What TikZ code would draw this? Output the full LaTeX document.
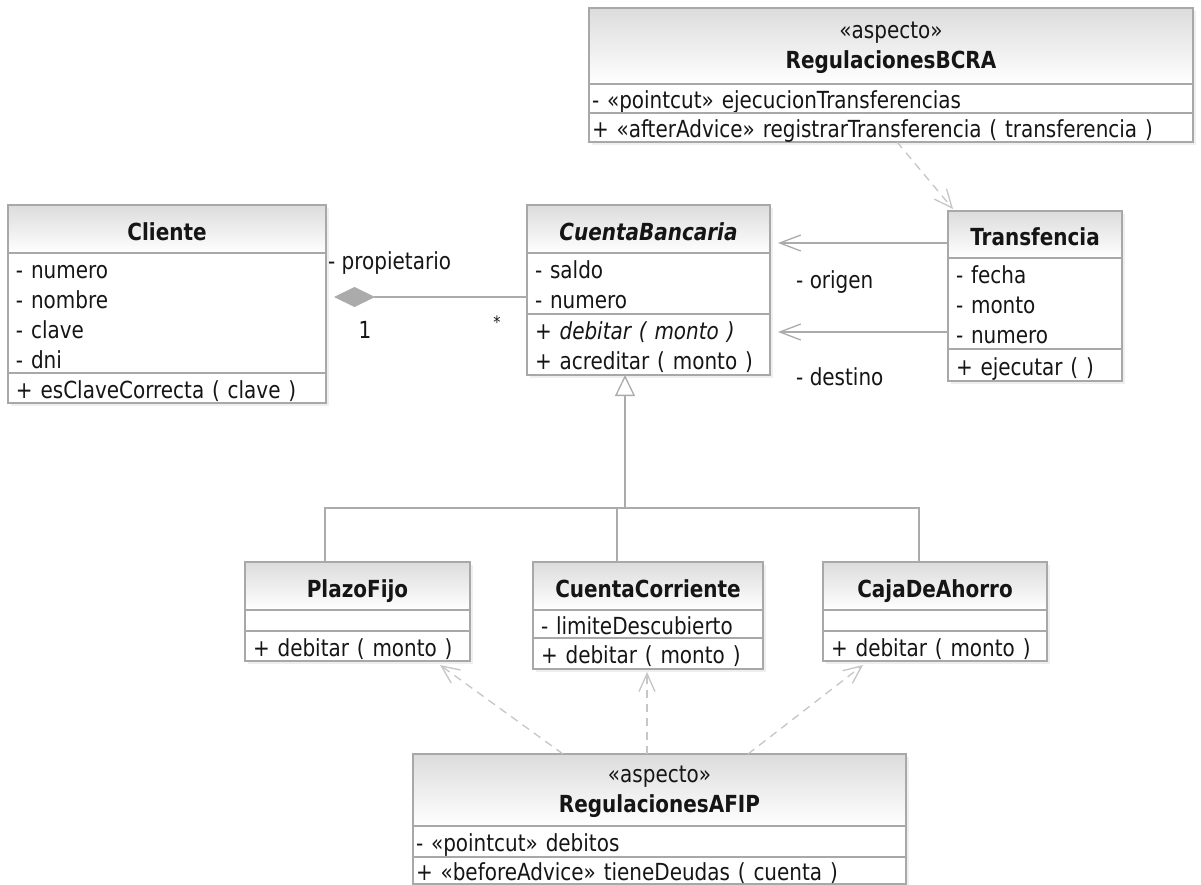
\documentclass[tikz,border=0pt]{standalone}
\usepackage{fontspec}
\setmainfont{DejaVu Sans}[FakeStretch=0.85]
\usepackage{xcolor}
\usetikzlibrary{arrows.meta,positioning,shadows,calc}

\definecolor{umlborder}{HTML}{A8A8A8}
\definecolor{umlshade}{HTML}{DCDCDC}
\definecolor{umlline}{HTML}{ABABAB}
\definecolor{umldash}{HTML}{C6C6C6}
\definecolor{umltext}{HTML}{151515}
\newcommand{\umlsize}{\fontsize{23.5}{30}\selectfont}

\begin{document}
\begin{tikzpicture}[x=1pt,y=-1pt]
	\tikzstyle{boxshadow}=[drop shadow={shadow xshift=3pt,shadow yshift=-3pt,opacity=.12}]
	\tikzstyle{classhead}=[draw=umlborder, line width=1.5pt, top color=umlshade, bottom color=white, inner sep=0pt, outer sep=0pt, align=center, text=umltext, text height=22pt, text depth=0pt, font=\umlsize\bfseries, boxshadow]
	\tikzstyle{aspecthead}=[classhead, text height=46pt, text depth=2pt, font=\umlsize]
	\tikzstyle{compart}=[draw=umlborder, line width=1.5pt, fill=white, inner xsep=8pt, inner ysep=0pt, outer sep=0pt, align=left, text=umltext, text height=22pt, text depth=2pt, font=\umlsize, boxshadow]
	\tikzstyle{tworows}=[text depth=32pt]
	\tikzstyle{threerows}=[text depth=62pt]
	\tikzstyle{fourrows}=[text depth=92pt]
	\tikzstyle{emptycompart}=[compart, text height=0pt, text depth=0pt]
	\tikzstyle{aspectcompart}=[compart, inner xsep=3pt]
	\tikzstyle{conn}=[draw=umlline, line width=1.3pt]
	\tikzstyle{compose}=[conn, -{Diamond[length=41pt,width=20pt]}]
	\tikzstyle{navigable}=[conn, -{Straight Barb[length=21pt,width=16pt]}]
	\tikzstyle{generalize}=[conn, -{Triangle[open,length=21pt,width=20pt,fill=white]}]
	\tikzstyle{depends}=[draw=umldash, line width=1.3pt, dash pattern=on 8pt off 6pt, -{Straight Barb[length=18pt,width=16pt]}]
	\tikzstyle{rolelabel}=[inner sep=0pt, text=umltext, font=\umlsize]

	\fill[white] (0,0) rectangle (1201,884);
	\useasboundingbox (0,0) rectangle (1201,884);

	% aspecto BCRA
	\node[aspecthead, minimum width=604pt, minimum height=76pt, anchor=north west] (bcra) at (589,8) {«aspecto»\\\textbf{RegulacionesBCRA}};
	\node[aspectcompart, text width=598pt, minimum height=29pt, below=0pt of bcra] (bcraAttr) {- «pointcut» ejecucionTransferencias};
	\node[aspectcompart, text width=598pt, minimum height=29pt, below=0pt of bcraAttr] (bcraOps) {+ «afterAdvice» registrarTransferencia ( transferencia )};

	% Cliente
	\node[classhead, minimum width=318pt, minimum height=48pt, anchor=north west] (cliente) at (8,205) {Cliente};
	\node[compart, fourrows, text width=302pt, minimum height=120pt, below=0pt of cliente] (clienteAttr) {- numero\\- nombre\\- clave\\- dni};
	\node[compart, text width=302pt, minimum height=30pt, below=0pt of clienteAttr] (clienteOps) {+ esClaveCorrecta ( clave )};

	% CuentaBancaria
	\node[classhead, minimum width=243pt, minimum height=48pt, anchor=north west] (cuenta) at (527,205) {\textit{CuentaBancaria}};
	\node[compart, tworows, text width=227pt, minimum height=61pt, below=0pt of cuenta] (cuentaAttr) {- saldo\\- numero};
	\node[compart, tworows, text width=227pt, minimum height=61pt, below=0pt of cuentaAttr] (cuentaOps) {\textit{+ debitar ( monto )}\\+ acreditar ( monto )};

	% Transfencia
	\node[classhead, minimum width=174pt, minimum height=47pt, anchor=north west] (trans) at (948,211) {Transfencia};
	\node[compart, threerows, text width=158pt, minimum height=91pt, below=0pt of trans] (transAttr) {- fecha\\- monto\\- numero};
	\node[compart, text width=158pt, minimum height=32pt, below=0pt of transAttr] (transOps) {+ ejecutar ( )};

	% subclases
	\node[classhead, minimum width=225pt, minimum height=48pt, anchor=north west] (plazo) at (245,562) {PlazoFijo};
	\node[emptycompart, text width=209pt, minimum height=21pt, below=0pt of plazo] (plazoAttr) {};
	\node[compart, text width=209pt, minimum height=30pt, below=0pt of plazoAttr] (plazoOps) {+ debitar ( monto )};

	\node[classhead, minimum width=230pt, minimum height=48pt, anchor=north west] (corriente) at (533,562) {CuentaCorriente};
	\node[compart, text width=214pt, minimum height=28pt, below=0pt of corriente] (corrienteAttr) {- limiteDescubierto};
	\node[compart, text width=214pt, minimum height=31pt, below=0pt of corrienteAttr] (corrienteOps) {+ debitar ( monto )};

	\node[classhead, minimum width=224pt, minimum height=48pt, anchor=north west] (caja) at (823,562) {CajaDeAhorro};
	\node[emptycompart, text width=208pt, minimum height=21pt, below=0pt of caja] (cajaAttr) {};
	\node[compart, text width=208pt, minimum height=30pt, below=0pt of cajaAttr] (cajaOps) {+ debitar ( monto )};

	% aspecto AFIP
	\node[aspecthead, minimum width=493pt, minimum height=72pt, anchor=north west] (afip) at (413,754) {«aspecto»\\\textbf{RegulacionesAFIP}};
	\node[aspectcompart, text width=487pt, minimum height=31pt, below=0pt of afip] (afipAttr) {- «pointcut» debitos};
	\node[aspectcompart, text width=487pt, minimum height=27pt, below=0pt of afipAttr] (afipOps) {+ «beforeAdvice» tieneDeudas ( cuenta )};

	% Cliente - CuentaBancaria
	\coordinate (propEnd) at ($(cuentaAttr.west)+(0,13.5)$);
	\draw[compose, shorten >=8pt] (propEnd) -- (clienteAttr.east |- propEnd);
	\node[rolelabel, anchor=west] (lblProp) at (328,263) {- propietario};
	\node[rolelabel] (lblOne) at (365,330) {1};
	\node[rolelabel, font=\fontsize{17}{20}\selectfont] (lblMany) at (497,322) {*};

	% Transfencia - CuentaBancaria
	\coordinate (origenA) at ($(trans.west)+(0,8.5)$);
	\coordinate (destinoA) at ($(transAttr.west)+(0,28.5)$);
	\draw[navigable, shorten >=8pt] (origenA) -- (cuenta.east |- origenA);
	\draw[navigable, shorten >=8pt] (destinoA) -- (cuentaOps.east |- destinoA);
	\node[rolelabel, anchor=west] (lblOrigen) at (796,282) {- origen};
	\node[rolelabel, anchor=west] (lblDestino) at (796,377) {- destino};

	% herencia
	\coordinate (genMid) at (625,508);
	\draw[generalize] (genMid) -- (genMid |- cuentaOps.south);
	\draw[conn] ([xshift=-32.5pt]plazo.north) |- (genMid);
	\draw[conn] ([xshift=-31pt]corriente.north) |- (genMid);
	\draw[conn] ([xshift=-16pt]caja.north) |- (genMid);

	% aspectos
	\draw[depends] ([xshift=6pt]bcraOps.south) -- ([xshift=-82pt,yshift=2pt]trans.north);
	\draw[depends] ([xshift=-96.5pt]afip.north) -- ([xshift=82.5pt,yshift=-4pt]plazoOps.south);
	\draw[depends] ([xshift=-12.5pt]afip.north) -- ([xshift=-1pt,yshift=-3pt]corrienteOps.south);
	\draw[depends] ([xshift=88.5pt]afip.north) -- ([xshift=-72pt,yshift=-4pt]cajaOps.south);
\end{tikzpicture}
\end{document}
